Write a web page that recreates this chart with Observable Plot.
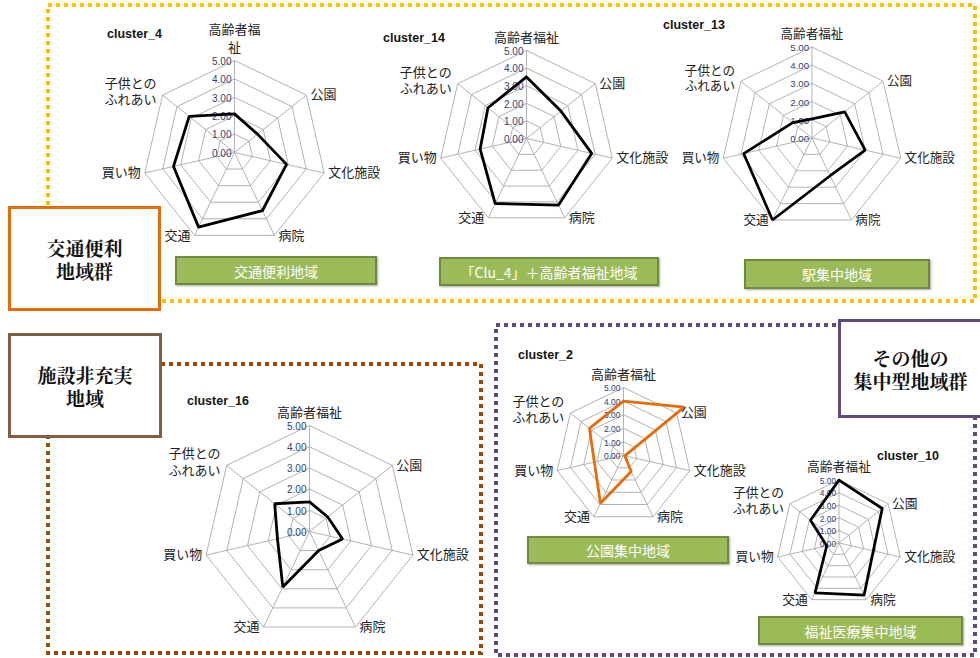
<!DOCTYPE html>
<html><head><meta charset="utf-8">
<script src="https://cdn.jsdelivr.net/npm/d3@7"></script>
<script src="https://cdn.jsdelivr.net/npm/@observablehq/plot@0.6"></script>
<style>
body{margin:0;background:#fff;}
#root{position:relative;width:980px;height:658px;overflow:hidden;background:#fff;font-family:"Noto Sans CJK JP",sans-serif;}
.ctitle{position:absolute;font:bold 12.5px "Liberation Sans",Arial,sans-serif;color:#141414;white-space:nowrap;}
.gbox{position:absolute;background:#9BBB59;border:2px solid #71893F;color:#fff;font-size:14px;display:flex;align-items:center;justify-content:center;box-sizing:border-box;box-shadow:1px 1px 2px rgba(0,0,0,0.35);white-space:nowrap;}
.group{position:absolute;background:#fff;box-sizing:border-box;border:3px solid;display:flex;align-items:center;justify-content:center;text-align:center;font-weight:bold;font-size:19px;line-height:23px;color:#111;font-family:"Noto Serif CJK JP","Noto Sans CJK JP",serif;}
.radar{position:absolute;}
.radar svg{overflow:visible;background:transparent;}
</style></head>
<body><div id="root"></div>
<script>
// ---- data ----
const categories = ["高齢者福祉","公園","文化施設","病院","交通","買い物","子供とのふれあい"];
const tickLabels = ["0.00","1.00","2.00","3.00","4.00","5.00"];
const clusterNames = ["cluster_4","cluster_14","cluster_13","cluster_16","cluster_2","cluster_10"];
const cluster4  = [2.1, 1.6, 2.9, 3.5, 4.5, 3.4, 3.15];
const cluster14 = [3.5, 2.5, 3.8, 4.2, 4.1, 2.7, 2.8];
const cluster13 = [1.05, 2.3, 3.0, 2.3, 5.0, 3.85, 1.35];
const cluster16 = [1.4, 1.1, 1.6, 1.0, 2.9, 1.55, 2.1];
const cluster2  = [4.0, 5.7, 0.1, 1.3, 3.9, 2.2, 3.2];
const cluster10 = [5.0, 4.4, 2.8, 4.6, 4.4, 1.0, 2.9];
const groupNames = ["交通便利\n地域群","施設非充実\n地域","その他の\n集中型地域群"];
const typeNames = ["交通便利地域","「Clu_4」＋高齢者福祉地域","駅集中地域","公園集中地域","福祉医療集中地域"];

const root = document.getElementById("root");

// ---- frames (decoration) ----
const NS = "http://www.w3.org/2000/svg";
const deco = document.createElementNS(NS,"svg");
deco.setAttribute("width",980); deco.setAttribute("height",658);
deco.style.position="absolute"; deco.style.left="0"; deco.style.top="0";
const frames = [
  {d:"M48,205 V5 H975 V301 H160", c:"#FFC000"},
  {d:"M161,364 H481 V653 H48 V437", c:"#984807"},
  {d:"M836,325 H496 V655 H975 V418", c:"#604A7B"}
];
for (const f of frames){
  const p=document.createElementNS(NS,"path");
  p.setAttribute("d",f.d); p.setAttribute("fill","none");
  p.setAttribute("stroke",f.c); p.setAttribute("stroke-width","4");
  p.setAttribute("stroke-dasharray","4 4");
  deco.appendChild(p);
}
root.appendChild(deco);

// ---- radars ----
const n = categories.length;
const ang = i => 2*Math.PI*i/n;
function radar(values, opt){
  const {cx, cy, r, color="#000", tickSize=10, topLabel="高齢者福祉", catSize=13} = opt;
  const pad = 80;
  const k = (r+pad)/r;
  const size = 2*(r+pad);
  const pos = (i,v)=>({x:Math.sin(ang(i))*v/5, y:Math.cos(ang(i))*v/5});
  const rings = [];
  for (let L=1; L<=5; L++) for (let i=0;i<=n;i++) rings.push({...pos(i%n,L), L});
  const spokes = categories.map((c,i)=>({x2:pos(i,5).x, y2:pos(i,5).y}));
  const data = [];
  for (let i=0;i<=n;i++) data.push(pos(i%n, values[i%n]));
  const ticks = tickLabels.map((t,L)=>({x:0,y:L/5,t}));
  const labs = categories.map((c,i)=>({...pos(i,5), t: i===0? topLabel : (i===6? "子供との\nふれあい" : c), i}));
  const font = "Noto Sans CJK JP";
  const plot = Plot.plot({
    width:size, height:size, margin:0,
    x:{domain:[-k,k], axis:null}, y:{domain:[-k,k], axis:null},
    style:{overflow:"visible", background:"transparent"},
    marks:[
      Plot.line(rings,{x:"x",y:"y",z:"L",stroke:"#A9A9A9",strokeWidth:0.9}),
      Plot.link(spokes,{x1:0,y1:0,x2:"x2",y2:"y2",stroke:"#A9A9A9",strokeWidth:0.9}),
      Plot.text(ticks,{x:"x",y:"y",text:"t",textAnchor:"end",dx:-3,dy:1,fill:"#2E4374",fontSize:tickSize,fontFamily:"Liberation Sans"}),
      Plot.line(data,{x:"x",y:"y",stroke:color,strokeWidth:2.8,strokeLinejoin:"miter"}),
      Plot.text(labs.filter(d=>d.i===0),{x:"x",y:"y",text:"t",textAnchor:"middle",lineAnchor:"bottom",dy:-9,fill:"#222",fontSize:catSize,fontFamily:font,lineHeight:1.35}),
      Plot.text(labs.filter(d=>d.i>=1&&d.i<=3),{x:"x",y:"y",text:"t",textAnchor:"start",dx:4,fill:"#222",fontSize:catSize,fontFamily:font}),
      Plot.text(labs.filter(d=>d.i>=4&&d.i<=5),{x:"x",y:"y",text:"t",textAnchor:"end",dx:-4,fill:"#222",fontSize:catSize,fontFamily:font}),
      Plot.text(labs.filter(d=>d.i===6),{x:"x",y:"y",text:"t",textAnchor:"end",dx:-6,dy:-4,fill:"#222",fontSize:catSize,fontFamily:font,lineHeight:1.25})
    ]
  });
  const wrap = document.createElement("div");
  wrap.className="radar";
  wrap.style.left=(cx-r-pad)+"px"; wrap.style.top=(cy-r-pad)+"px";
  wrap.appendChild(plot);
  root.appendChild(wrap);
}
radar(cluster4, {cx:234, cy:152, r:92, topLabel:"高齢者福\n祉"});
radar(cluster14,{cx:526, cy:138, r:88});
radar(cluster13,{cx:817, cy:143, r:94});
radar(cluster16,{cx:309, cy:531, r:106});
radar(cluster2, {cx:623, cy:455, r:68, color:"#E46C0A", tickSize:8.5});
radar(cluster10,{cx:841, cy:545, r:64, tickSize:8.5});

// ---- cluster titles ----
const titlePos = [[107,27],[383,31],[663,18],[187,394],[518,348],[877,449]];
clusterNames.forEach((t,i)=>{
  const d=document.createElement("div"); d.className="ctitle";
  d.style.left=titlePos[i][0]+"px"; d.style.top=titlePos[i][1]+"px"; d.textContent=t; root.appendChild(d);
});

// ---- green type labels ----
const gPos = [[175,256,202,29],[439,257,220,29],[744,259,186,30],[527,536,202,28],[758,616,205,29]];
typeNames.forEach((t,i)=>{
  const d=document.createElement("div"); d.className="gbox";
  const [l,tp,w,h]=gPos[i];
  Object.assign(d.style,{left:l+"px",top:tp+"px",width:w+"px",height:h+"px"});
  d.textContent=t; root.appendChild(d);
});

// ---- group boxes ----
const grpPos = [[8,206,153,105,"#E46C0A"],[8,333,154,105,"#7F6043"],[838,319,145,99,"#604A7B"]];
groupNames.forEach((t,i)=>{
  const d=document.createElement("div"); d.className="group";
  const [l,tp,w,h,c]=grpPos[i];
  Object.assign(d.style,{left:l+"px",top:tp+"px",width:w+"px",height:h+"px",borderColor:c});
  d.innerHTML=t.replace("\n","<br>"); root.appendChild(d);
});
</script></body></html>
